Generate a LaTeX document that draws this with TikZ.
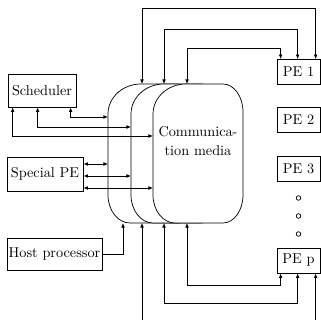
\documentclass[tikz,border=0pt]{standalone}
\usetikzlibrary{arrows.meta}
\begin{document}
\begin{tikzpicture}[x=0.7pt,y=-0.7pt,line width=0.5pt,
  >={Latex[length=3.2pt,width=2.6pt]},
  box/.style={draw,inner sep=1pt,font=\normalsize},
  pebox/.style={box,minimum width=30.1pt,minimum height=17.5pt},
  media/.style={draw,fill=white},
  link/.style={<->}]
\useasboundingbox (0,0) rectangle (321,320);

% three stacked communication-media outlines, back to front
\foreach \L in {108,131,153}{
  \draw[media,shift={(\L,0)}] (0,195) -- (0,114)
    .. controls (0,97.4) and (14.8,84) .. (33,84) -- (70,84)
    .. controls (81,84) and (90,96.5) .. (90,112) -- (90,195)
    .. controls (90,210.5) and (81,223) .. (70,223) -- (22,223)
    .. controls (9.9,223) and (0,210.5) .. (0,195) -- cycle;
}
\node[align=center,font=\normalsize] (cm) at (198,141) {Communica-\\[1.3pt]tion media};

% attachment points on the media outlines
\coordinate (m1t) at (142,84);
\coordinate (m2t) at (164,84);
\coordinate (m3t) at (187,84);
\coordinate (m1b) at (123,223);
\coordinate (m2b) at (142,223);
\coordinate (m3b) at (164,223);
\coordinate (m4b) at (187,223);
\coordinate (m1s) at (108,117);
\coordinate (m2s) at (131,127);
\coordinate (m3s) at (153,136);
\coordinate (m1p) at (108,164);
\coordinate (m2p) at (131,176);
\coordinate (m3p) at (153,188);

% processors on the left
\node[box,minimum width=47.6pt,minimum height=23.1pt] (sched) at (42,90.5) {Scheduler};
\node[box,minimum width=53.2pt,minimum height=23.8pt] (spe) at (45,174) {Special PE};
\node[box,minimum width=66.5pt,minimum height=22.4pt] (host) at (54.5,254) {Host processor};

% processing elements on the right
\node[pebox] (pe1) at (298.5,72) {PE 1};
\node[pebox] (pe2) at (298.5,120) {PE 2};
\node[pebox] (pe3) at (298.5,169) {PE 3};
\node[pebox] (pep) at (298.5,260.5) {PE p};
\foreach \y in {198,216,234} \draw (298.5,\y) circle[radius=1.6pt];

\coordinate (pe1a) at ([xshift=2.8pt]pe1.north west);
\coordinate (pe1b) at ([xshift=14.7pt]pe1.north west);
\coordinate (pe1c) at ([xshift=27.3pt]pe1.north west);
\coordinate (pepa) at ([xshift=2.8pt]pep.south west);
\coordinate (pepb) at ([xshift=14.7pt]pep.south west);
\coordinate (pepc) at ([xshift=27.3pt]pep.south west);

\coordinate (sch1) at ([xshift=44.1pt]sched.south west);
\coordinate (sch2) at ([xshift=21pt]sched.south west);
\coordinate (sch3) at ([xshift=3.5pt]sched.south west);

% links to PE 1 over the top
\draw[link] (m1t) -- ++(0,-76) -| (pe1c);
\draw[link] (m2t) -- ++(0,-55) -| (pe1b);
\draw[link] (m3t) -- ++(0,-36) -| (pe1a);

% links to PE p underneath
\draw[link] (m4b) -- ++(0,62) -| (pepa);
\draw[link] (m3b) -- ++(0,80) -| (pepb);
\begin{scope}
  \clip (0,0) rectangle (321,320);
  \draw[link] (m2b) -- ++(0,110) -| (pepc);
\end{scope}

% scheduler links
\draw[link] (sch1) |- (m1s);
\draw[link] (sch2) |- (m2s);
\draw[link] (sch3) |- (m3s);

% special PE links
\draw[link] (spe.east |- m1p) -- (m1p);
\draw[link] (spe.east |- m2p) -- (m2p);
\draw[link] (spe.east |- m3p) -- (m3p);

% host processor link
\draw[->] (host.east) -| (m1b);
\end{tikzpicture}
\end{document}
